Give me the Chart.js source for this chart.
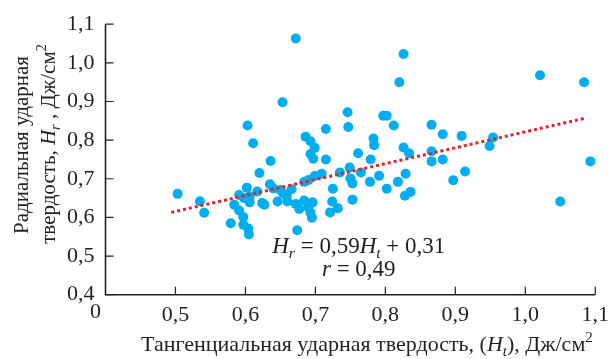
<!DOCTYPE html>
<html>
<head>
<meta charset="utf-8">
<script src="https://cdn.jsdelivr.net/npm/chart.js@4.4.0/dist/chart.umd.min.js"></script>
<style>
  html, body { margin: 0; padding: 0; background: #fff; }
  #wrap { width: 616px; height: 359px; }
</style>
</head>
<body>
<div id="wrap"><canvas id="chart" width="616" height="359"></canvas></div>
<script>
// Тангенциальная твердость (Ht) по точкам
const htValues = [
  0.503, 0.535, 0.541, 0.579, 0.584, 0.591, 0.597, 0.597, 0.604, 0.605,
  0.598, 0.606, 0.591, 0.602, 0.606, 0.617, 0.603, 0.611, 0.620, 0.624,
  0.627, 0.636, 0.635, 0.640, 0.650, 0.654, 0.659, 0.666, 0.646, 0.660,
  0.672, 0.677, 0.674, 0.653, 0.672, 0.684, 0.690, 0.699, 0.684, 0.696,
  0.690, 0.693, 0.695, 0.686, 0.693, 0.699, 0.693, 0.697, 0.709, 0.715,
  0.715, 0.725, 0.724, 0.732, 0.721, 0.735, 0.749, 0.746, 0.747, 0.750,
  0.753, 0.753, 0.761, 0.765, 0.779, 0.783, 0.784, 0.791, 0.778, 0.797,
  0.802, 0.812, 0.802, 0.818, 0.829, 0.836, 0.828, 0.826, 0.834, 0.820,
  0.826, 0.866, 0.866, 0.866, 0.882, 0.882, 0.897, 0.914, 0.909, 0.949,
  0.954, 1.021, 1.084, 1.093, 1.050
];
// Радиальная твердость (Hr)
const hrValues = [
  0.661, 0.642, 0.612, 0.585, 0.633, 0.618, 0.601, 0.581, 0.571, 0.556,
  0.650, 0.639, 0.658, 0.677, 0.654, 0.667, 0.838, 0.792, 0.715, 0.637,
  0.633, 0.746, 0.686, 0.675, 0.671, 0.662, 0.656, 0.673, 0.641, 0.641,
  0.635, 0.622, 0.567, 0.898, 1.063, 0.692, 0.697, 0.707, 0.644, 0.639,
  0.626, 0.612, 0.599, 0.809, 0.797, 0.780, 0.764, 0.752, 0.713, 0.829,
  0.750, 0.674, 0.641, 0.624, 0.613, 0.716, 0.729, 0.872, 0.834, 0.701,
  0.688, 0.646, 0.766, 0.716, 0.750, 0.804, 0.787, 0.708, 0.692, 0.863,
  0.863, 0.838, 0.674, 0.692, 0.713, 0.666, 0.656, 0.781, 0.766, 0.950,
  1.023, 0.840, 0.771, 0.745, 0.815, 0.750, 0.696, 0.719, 0.811, 0.785,
  0.807, 0.968, 0.950, 0.745, 0.641
];
// линия тренда (концы, как на рисунке)
const trendX = [0.494, 1.084];
const trendY = [0.613, 0.856];

const xTicks = [0.5, 0.6, 0.7, 0.8, 0.9, 1.0, 1.1];
const yTicks = [0.4, 0.5, 0.6, 0.7, 0.8, 0.9, 1.0, 1.1];
const axisMin = 0.4, xMax = 1.1, yMax = 1.1;

// положение формулы (в единицах данных)
const eqX = 0.762;
const eqY1 = 0.509;
const eqY2 = 0.448;

const FONT = '"Liberation Serif", "Times New Roman", serif';
const INK = '#231f20';
const FS = 22;
const fmt = v => v.toFixed(1).replace('.', ',');

function drawRuns(ctx, runs, x, y, size, align) {
  const parts = runs.map(r => {
    const s = (r.sub || r.sup) ? size * 0.68 : size;
    const font = (r.it ? 'italic ' : '') + s + 'px ' + FONT;
    ctx.font = font;
    return { r, font, w: ctx.measureText(r.t).width };
  });
  const total = parts.reduce((a, p) => a + p.w, 0);
  let cx = align === 'center' ? x - total / 2 : x;
  ctx.textAlign = 'left';
  ctx.textBaseline = 'alphabetic';
  parts.forEach(p => {
    ctx.font = p.font;
    const dy = p.r.sub ? size * 0.22 : p.r.sup ? -size * 0.42 : 0;
    ctx.fillText(p.r.t, cx, y + dy);
    cx += p.w;
  });
}

const axesPlugin = {
  id: 'axesPlugin',
  afterDraw(chart) {
    const { ctx, chartArea: a, scales: { x, y } } = chart;
    ctx.save();
    ctx.strokeStyle = INK;
    ctx.fillStyle = INK;
    ctx.lineWidth = 1.6;
    // оси
    ctx.beginPath();
    ctx.moveTo(a.left, a.top);
    ctx.lineTo(a.left, a.bottom);
    ctx.lineTo(a.right, a.bottom);
    ctx.stroke();
    // засечки внутрь
    ctx.lineWidth = 1.2;
    ctx.beginPath();
    xTicks.forEach(v => {
      const px = x.getPixelForValue(v);
      ctx.moveTo(px, a.bottom);
      ctx.lineTo(px, a.bottom - 8);
    });
    yTicks.forEach(v => {
      const py = y.getPixelForValue(v);
      ctx.moveTo(a.left, py);
      ctx.lineTo(a.left + 8, py);
    });
    ctx.stroke();

    // "0" в углу
    ctx.font = FS + 'px ' + FONT;
    ctx.textAlign = 'center';
    ctx.textBaseline = 'top';
    ctx.fillText('0', a.left - 10, a.bottom + 7);

    // подпись оси X
    drawRuns(ctx, [
      { t: 'Тангенциальная ударная твердость, (' },
      { t: 'H', it: true },
      { t: 't', it: true, sub: true },
      { t: '), Дж/см' },
      { t: '2', sup: true }
    ], 141, 351, FS, 'left');

    // подпись оси Y (две строки, повернуто)
    ctx.save();
    ctx.translate(28, 145);
    ctx.rotate(-Math.PI / 2);
    drawRuns(ctx, [{ t: 'Радиальная ударная' }], 0, 0, 21, 'center');
    ctx.restore();
    ctx.save();
    ctx.translate(55, 144);
    ctx.rotate(-Math.PI / 2);
    drawRuns(ctx, [
      { t: 'твердость, ' },
      { t: 'H', it: true },
      { t: 'r', it: true, sub: true },
      { t: ' , Дж/см' },
      { t: '2', sup: true }
    ], 0, 0, 21, 'center');
    ctx.restore();

    // формула регрессии
    const ex = x.getPixelForValue(eqX);
    drawRuns(ctx, [
      { t: 'H', it: true },
      { t: 'r', it: true, sub: true },
      { t: ' = 0,59' },
      { t: 'H', it: true },
      { t: 't', it: true, sub: true },
      { t: ' + 0,31' }
    ], ex, y.getPixelForValue(eqY1), 23, 'center');
    drawRuns(ctx, [
      { t: 'r', it: true },
      { t: ' = 0,49' }
    ], ex, y.getPixelForValue(eqY2), 23, 'center');
    ctx.restore();
  }
};

new Chart(document.getElementById('chart'), {
  type: 'scatter',
  data: {
    datasets: [
      {
        type: 'line',
        data: trendX.map((v, i) => ({ x: v, y: trendY[i] })),
        borderColor: '#e8202a',
        borderWidth: 3,
        borderDash: [3, 3],
        pointRadius: 0,
        fill: false,
        order: 1
      },
      {
        data: htValues.map((v, i) => ({ x: v, y: hrValues[i] })),
        backgroundColor: '#00aeef',
        borderWidth: 0,
        pointRadius: 5,
        order: 2
      }
    ]
  },
  options: {
    responsive: false,
    animation: false,
    devicePixelRatio: 1,
    layout: { padding: { left: 0, right: 14, top: 20, bottom: 0 } },
    plugins: { legend: { display: false }, tooltip: { enabled: false } },
    scales: {
      x: {
        type: 'linear',
        min: axisMin, max: xMax,
        afterBuildTicks: s => { s.ticks = xTicks.map(v => ({ value: v })); },
        afterFit: s => { s.height = 64.3; },
        grid: { display: false, drawTicks: false },
        border: { display: false },
        ticks: {
          callback: v => fmt(v),
          font: { family: FONT, size: FS },
          color: INK,
          padding: 7,
          maxRotation: 0,
          autoSkip: false
        }
      },
      y: {
        type: 'linear',
        min: axisMin, max: yMax,
        afterBuildTicks: s => { s.ticks = yTicks.map(v => ({ value: v })); },
        afterFit: s => { s.width = 105.5; },
        grid: { display: false, drawTicks: false },
        border: { display: false },
        ticks: {
          callback: v => fmt(v),
          font: { family: FONT, size: FS },
          color: INK,
          padding: 11,
          autoSkip: false
        }
      }
    }
  },
  plugins: [axesPlugin]
});
</script>
</body>
</html>
